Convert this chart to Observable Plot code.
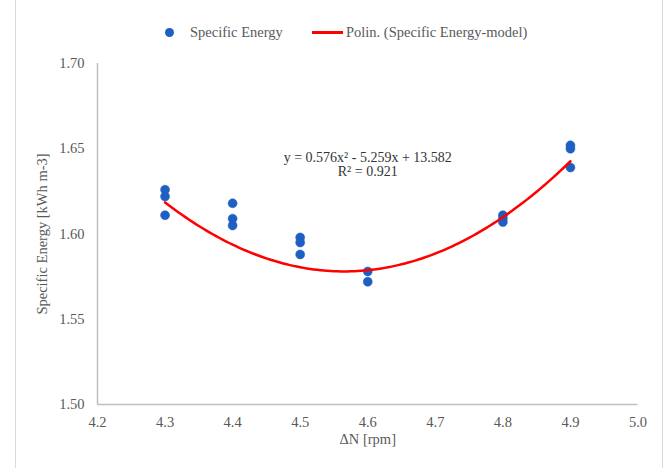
<!DOCTYPE html>
<html>
<head>
<meta charset="utf-8">
<script src="https://cdn.jsdelivr.net/npm/d3@7"></script>
<script src="https://cdn.jsdelivr.net/npm/@observablehq/plot@0.6"></script>
<style>
  html, body { margin: 0; padding: 0; background: #fff; }
  #chart { position: relative; width: 669px; height: 468px; overflow: hidden; font-family: "Liberation Serif", "Times New Roman", serif; }
  #border { position: absolute; left: 15px; top: -2px; width: 648px; height: 480px; border-left: 1.5px solid #d9d9d9; border-right: 1.5px solid #d9d9d9; box-sizing: border-box; }
  #legend { position: absolute; top: 24px; left: 0; width: 669px; height: 17px; font-size: 14.5px; color: #595959; }
  #legend .item { position: absolute; top: 0; display: flex; align-items: center; height: 17px; white-space: nowrap; }
  #legend .dot { width: 9px; height: 9px; border-radius: 50%; background: #1f5fc1; margin-right: 16px; }
  #legend .line { width: 31px; height: 2.5px; background: #ff0000; margin-right: 3px; }
  #chart svg { position: absolute; left: 0; top: 0; }
</style>
</head>
<body>
<div id="chart">
  <div id="border"></div>
  <div id="legend">
    <div class="item" style="left:165px"><span class="dot"></span><span>Specific Energy</span></div>
    <div class="item" style="left:312px"><span class="line"></span><span>Polin. (Specific Energy-model)</span></div>
  </div>
</div>
<script>
// Measured specific energy at each speed difference ΔN
const deltaN = [4.3, 4.3, 4.3, 4.4, 4.4, 4.4, 4.5, 4.5, 4.5, 4.6, 4.6, 4.8, 4.8, 4.8, 4.9, 4.9, 4.9];
const specificEnergy = [1.626, 1.622, 1.611, 1.618, 1.609, 1.605, 1.598, 1.595, 1.588, 1.578, 1.572, 1.611, 1.609, 1.607, 1.652, 1.650, 1.639];

// Second-order polynomial trend: y = a x² + b x + c
const polyCoefficients = [0.576, -5.259, 13.582];
const trendRange = [4.3, 4.9];
const equationLines = ["y = 0.576x² - 5.259x + 13.582", "R² = 0.921"];

const xTicks = [4.2, 4.3, 4.4, 4.5, 4.6, 4.7, 4.8, 4.9, 5.0];
const yTicks = [1.50, 1.55, 1.60, 1.65, 1.70];

const points = deltaN.map((x, i) => ({x, y: specificEnergy[i]}));

const [a, b, c] = polyCoefficients;
const trend = d3.range(0, 121).map(i => {
  const x = trendRange[0] + (trendRange[1] - trendRange[0]) * i / 120;
  return {x, y: a * x * x + b * x + c};
});

const grey = "#595959";

const chart = Plot.plot({
  width: 669,
  height: 468,
  marginLeft: 97,
  marginRight: 31.5,
  marginTop: 63,
  marginBottom: 64,
  style: {fontFamily: "'Liberation Serif', 'Times New Roman', serif", fontSize: "14.5px", color: grey, background: "transparent"},
  x: {domain: [4.2, 5.0], ticks: xTicks, tickFormat: d3.format(".1f"), tickSize: 0, tickPadding: 12, label: null},
  y: {domain: [1.50, 1.70], ticks: yTicks, tickFormat: d3.format(".2f"), tickSize: 0, tickPadding: 13, label: null},
  marks: [
    Plot.ruleX([4.2], {stroke: "#bfbfbf", strokeWidth: 1.5}),
    Plot.ruleY([1.50], {stroke: "#bfbfbf", strokeWidth: 1.5}),
    Plot.dot(points, {x: "x", y: "y", r: 4.5, fill: "#1f5fc1", stroke: "#1f5fc1", strokeWidth: 0.5}),
    Plot.line(trend, {x: "x", y: "y", stroke: "#ff0000", strokeWidth: 2.5, curve: "linear"}),
    // Regression equation, one text per line
    Plot.text(equationLines, {x: () => 4.6, y: (d, i) => 1.6449 - i * 0.0084, textAnchor: "middle", lineAnchor: "middle", fill: "#333333", fontSize: 14}),
    Plot.text(["ΔN [rpm]"], {frameAnchor: "bottom", textAnchor: "middle", dy: 39, fill: grey, fontSize: 14.5}),
    Plot.text(["Specific Energy [kWh m-3]"], {frameAnchor: "left", textAnchor: "middle", dx: -55, rotate: -90, fill: grey, fontSize: 14.5})
  ]
});

document.getElementById("chart").appendChild(chart);
</script>
</body>
</html>
